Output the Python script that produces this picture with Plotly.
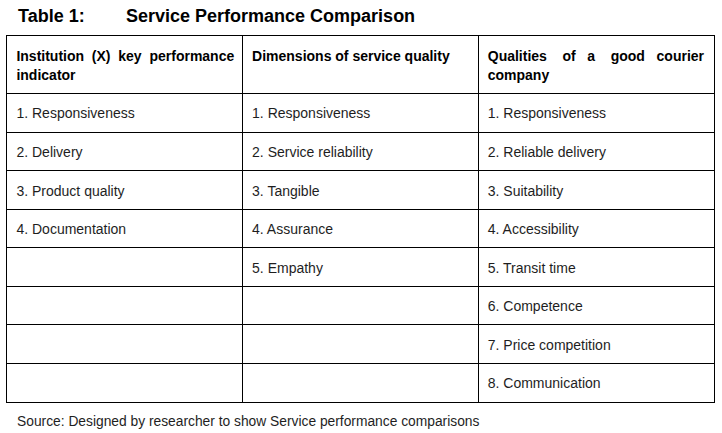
import plotly.graph_objects as go

title_label = "Table 1:"
title_text = "Service Performance Comparison"
source_text = "Source: Designed by researcher to show Service performance comparisons"

# header lines per column (the original header is justified, hence the wide gaps)
headers = [
    ["Institution\u00a0 (X)\u00a0 key\u00a0 performance", "indicator"],
    ["Dimensions of service quality"],
    ["Qualities\u00a0\u00a0\u00a0 of\u00a0\u00a0 a\u00a0\u00a0\u00a0 good\u00a0\u00a0 courier", "company"],
]
kpi = ["1. Responsiveness", "2. Delivery", "3. Product quality", "4. Documentation",
       "", "", "", ""]
dimensions = ["1. Responsiveness", "2. Service reliability", "3. Tangible", "4. Assurance",
              "5. Empathy", "", "", ""]
courier = ["1. Responsiveness", "2. Reliable delivery", "3. Suitability", "4. Accessibility",
           "5. Transit time", "6. Competence", "7. Price competition", "8. Communication"]
columns = [kpi, dimensions, courier]

W, H = 722, 433
FONT = "Liberation Sans, Arial, sans-serif"
HEADER_ROWS = 1.5          # header is one and a half body rows tall
n_rows = len(courier)
n_cols = len(columns)
pad = 0.04                 # left padding inside a cell, in column units
nudge = 0.05               # small downward shift of text, in row units

fig = go.Figure()

# header: one text point per line
hx, hy, ht = [], [], []
for c, lines in enumerate(headers):
    for i, line in enumerate(lines):
        hx.append(c + pad)
        hy.append(0.5 + 0.5 * i + nudge)
        ht.append(f"<b>{line}</b>")
fig.add_trace(go.Scatter(x=hx, y=hy, text=ht, mode="text", textposition="middle right",
                         textfont=dict(family=FONT, size=14, color="black"),
                         hoverinfo="skip", showlegend=False))

# body cells
bx, by, bt = [], [], []
for c, col in enumerate(columns):
    for r, val in enumerate(col):
        if val:
            bx.append(c + pad)
            by.append(HEADER_ROWS + r + 0.5 + nudge)
            bt.append(val)
fig.add_trace(go.Scatter(x=bx, y=by, text=bt, mode="text", textposition="middle right",
                         textfont=dict(family=FONT, size=14, color="#1e1e1e"),
                         hoverinfo="skip", showlegend=False))

grid = dict(showgrid=True, gridcolor="black", gridwidth=1, showline=True, linecolor="black",
            linewidth=1, mirror=True, zeroline=False, showticklabels=False, ticks="",
            fixedrange=True)
fig.update_xaxes(range=[0, n_cols], tickvals=list(range(n_cols + 1)),
                 domain=[7 / W, 714 / W], **grid)
fig.update_yaxes(range=[HEADER_ROWS + n_rows, 0],
                 tickvals=[0] + [HEADER_ROWS + r for r in range(n_rows + 1)],
                 domain=[1 - 402 / H, 1 - 36 / H], **grid)

fig.add_annotation(text=f"<b>{title_label}</b>", x=16 / W, y=1 - 16 / H, xref="paper", yref="paper",
                   xanchor="left", yanchor="middle", showarrow=False,
                   font=dict(family=FONT, size=18, color="black"))
fig.add_annotation(text=f"<b>{title_text}</b>", x=124 / W, y=1 - 16 / H,
                   xref="paper", yref="paper", xanchor="left", yanchor="middle", showarrow=False,
                   font=dict(family=FONT, size=18, color="black"))
fig.add_annotation(text=source_text, x=15 / W, y=1 - 421 / H, xref="paper", yref="paper",
                   xanchor="left", yanchor="middle", showarrow=False,
                   font=dict(family=FONT, size=13.8, color="#1e1e1e"))

fig.update_layout(width=W, height=H, margin=dict(l=0, r=0, t=0, b=0),
                  paper_bgcolor="white", plot_bgcolor="white")
fig.write_html("out.html", config={"displayModeBar": False},
               post_script="document.body.style.margin = '0';")
